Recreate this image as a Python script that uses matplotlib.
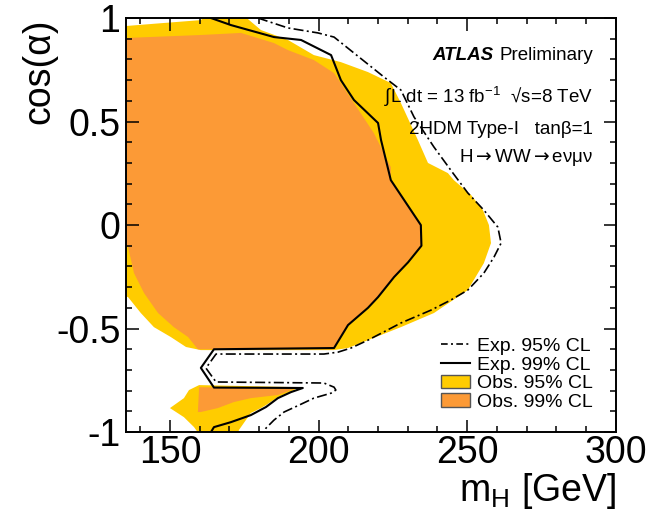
import matplotlib
matplotlib.use("Agg")
import matplotlib.pyplot as plt
from matplotlib.lines import Line2D
from matplotlib.patches import Patch
from matplotlib.ticker import MultipleLocator, FixedLocator, FixedFormatter

plt.rcParams['font.family'] = ['Liberation Sans', 'DejaVu Sans']
plt.rcParams['mathtext.fontset'] = 'custom'
plt.rcParams['mathtext.rm'] = 'Liberation Sans'
plt.rcParams['mathtext.it'] = 'Liberation Sans:italic'
plt.rcParams['mathtext.bf'] = 'Liberation Sans:bold'
plt.rcParams['mathtext.sf'] = 'DejaVu Sans'
plt.rcParams['axes.unicode_minus'] = False

# contours (m_H [GeV], cos(alpha))
obs95_x = [134.0, 147.0, 160.4, 162.0, 175.0, 180.6, 189.7, 198.4, 207.5, 216.6, 224.3,
           227.7, 233.4, 236.8, 243.5, 245.5, 251.3, 255.3, 257.3, 258.0, 255.6, 250.2,
           238.8, 227.7, 216.6, 209.9, 205.0, 160.4, 155.4, 150.3, 144.6, 140.2, 135.9, 134.0]
obs95_y = [0.96, 0.975, 0.99, 1.01, 1.01, 0.942, 0.894, 0.821, 0.787, 0.739, 0.686,
           0.589, 0.411, 0.30, 0.251, 0.217, 0.145, 0.072, 0.0, -0.087, -0.184, -0.314,
           -0.425, -0.493, -0.556, -0.594, -0.604, -0.604, -0.589, -0.541, -0.493, -0.425, -0.348, -0.34]

obs99_x = [134.0, 160.4, 173.9, 185.0, 189.7, 198.4, 205.2, 211.9, 218.6, 224.3, 224.3,
           234.4, 234.4, 225.4, 220.0, 209.9, 205.2, 205.0, 159.4, 156.1, 151.3, 146.0,
           141.3, 137.9, 135.9, 134.0]
obs99_y = [0.903, 0.918, 0.928, 0.879, 0.845, 0.797, 0.734, 0.589, 0.444, 0.28, 0.217,
           0.0, -0.097, -0.251, -0.348, -0.483, -0.589, -0.6, -0.6, -0.541, -0.493, -0.425,
           -0.329, -0.232, -0.106, -0.1]

obs95_low_x = [156.4, 159.8, 193.1, 191.7, 186.3, 182.3, 180.6, 177.2, 173.2, 172.8,
               159.8, 158.1, 154.7, 150.0, 154.7]
obs95_low_y = [-0.797, -0.773, -0.783, -0.797, -0.831, -0.870, -0.884, -0.908, -0.99, -1.01,
               -1.01, -0.976, -0.928, -0.884, -0.836]

obs99_low_x = [159.8, 191.7, 186.3, 177.2, 171.5, 166.1, 160.4, 159.4]
obs99_low_y = [-0.783, -0.792, -0.821, -0.836, -0.855, -0.884, -0.903, -0.903]

exp99_x = [163.8, 170.5, 185.0, 194.1, 204.2, 207.5, 211.9, 220.0, 221.0, 224.3, 234.4,
           234.6, 230.1, 225.4, 220.0, 216.6, 209.9, 205.2, 164.8, 160.4, 164.8, 194.7,
           190.7, 186.3, 182.3, 177.2, 170.5, 164.8, 163.8]
exp99_y = [1.0, 0.966, 0.908, 0.894, 0.821, 0.70, 0.604, 0.493, 0.411, 0.217, 0.0,
           -0.1, -0.18, -0.251, -0.348, -0.40, -0.483, -0.594, -0.6, -0.69, -0.785, -0.787,
           -0.807, -0.836, -0.879, -0.918, -0.952, -0.976, -1.0]

exp95_x = [179.6, 189.7, 199.8, 205.2, 211.9, 222.0, 227.7, 232.1, 238.8, 245.2, 250.2,
           255.6, 260.3, 261.4, 259.0, 255.6, 250.2, 244.5, 237.8, 227.7, 216.6, 210.9,
           206.5, 201.8, 165.5, 162.1, 165.5, 201.8, 205.2, 205.8, 204.2, 198.4, 193.4,
           188.4, 185.0, 182.3, 181.6]
exp95_y = [1.0, 0.952, 0.928, 0.908, 0.831, 0.715, 0.652, 0.522, 0.377, 0.251, 0.155,
           0.072, -0.01, -0.087, -0.155, -0.232, -0.314, -0.362, -0.411, -0.473, -0.556, -0.594,
           -0.614, -0.623, -0.623, -0.691, -0.758, -0.763, -0.783, -0.797, -0.812, -0.836, -0.870,
           -0.903, -0.942, -0.981, -1.0]

x_ticks = [150, 200, 250, 300]
y_ticks = [-1, -0.5, 0, 0.5, 1]
y_ticklabels = ['-1', '-0.5', '0', '0.5', '1']

yellow = '#FFCC00'
orange = '#FC9A36'

fig = plt.figure(figsize=(6.51, 5.15), dpi=100)
ax = fig.add_axes([0.1935, 0.161, 0.7525, 0.804])

ax.fill(obs95_x, obs95_y, color=yellow, lw=0)
ax.fill(obs95_low_x, obs95_low_y, color=yellow, lw=0)
ax.fill(obs99_x, obs99_y, color=orange, lw=0)
ax.fill(obs99_low_x, obs99_low_y, color=orange, lw=0)
ax.plot(exp95_x, exp95_y, color='black', lw=1.2, ls=(0, (6, 2, 1.2, 2)))
ax.plot(exp99_x, exp99_y, color='black', lw=1.5)

ax.set_xlim(135.2, 300)
ax.set_ylim(-1, 1)
ax.xaxis.set_major_locator(FixedLocator(x_ticks))
ax.xaxis.set_minor_locator(MultipleLocator(10))
ax.yaxis.set_major_locator(FixedLocator(y_ticks))
ax.yaxis.set_major_formatter(FixedFormatter(y_ticklabels))
ax.yaxis.set_minor_locator(MultipleLocator(0.1))
ax.tick_params(which='both', direction='in', top=True, right=True, width=1.1)
ax.tick_params(which='major', length=9, labelsize=27)
ax.tick_params(axis='x', which='major', pad=2)
ax.tick_params(axis='y', which='major', pad=4)
ax.tick_params(which='minor', length=4.5)
for sp in ax.spines.values():
    sp.set_linewidth(1.4)

ax.set_xlabel(r'm$_{\mathrm{H}}$ [GeV]', fontsize=27, loc='right', labelpad=0)
ax.set_ylabel('cos(α)', fontsize=27, loc='top')
ax.yaxis.set_label_coords(-0.14, 1.0)

# labels
tx = 0.953
prelim = ax.text(tx, 0.899, 'Preliminary', transform=ax.transAxes, ha='right',
                 va='baseline', fontsize=13.5)
ax.annotate('ATLAS', xy=(0, 0), xycoords=prelim, xytext=(-4, 0), textcoords='offset points',
            ha='right', va='bottom', fontsize=13.5, fontweight='bold', fontstyle='italic')
ax.text(tx, 0.795, r'$\int$L dt = 13 fb$^{\mathrm{-1}}$  √s=8 TeV', transform=ax.transAxes,
        ha='right', va='baseline', fontsize=13.5)
ax.text(tx, 0.720, '2HDM Type-I   tanβ=1', transform=ax.transAxes,
        ha='right', va='baseline', fontsize=13.5)
ax.text(tx, 0.652, r'H$\mathsf{\rightarrow}$WW$\mathsf{\rightarrow}$eνμν', transform=ax.transAxes,
        ha='right', va='baseline', fontsize=13.5)

handles = [
    Line2D([], [], color='black', lw=1.2, ls=(0, (4, 2, 1.2, 2))),
    Line2D([], [], color='black', lw=1.5),
    Patch(facecolor=yellow, edgecolor='#555555', lw=1),
    Patch(facecolor=orange, edgecolor='#555555', lw=1),
]
labels = ['Exp. 95% CL', 'Exp. 99% CL', 'Obs. 95% CL', 'Obs. 99% CL']
ax.legend(handles, labels, loc='lower right', bbox_to_anchor=(0.953, 0.051),
          frameon=False, fontsize=14, borderpad=0, borderaxespad=0,
          handlelength=1.5, handletextpad=0.35, labelspacing=0.05)

fig.savefig('out.png', dpi=100)
